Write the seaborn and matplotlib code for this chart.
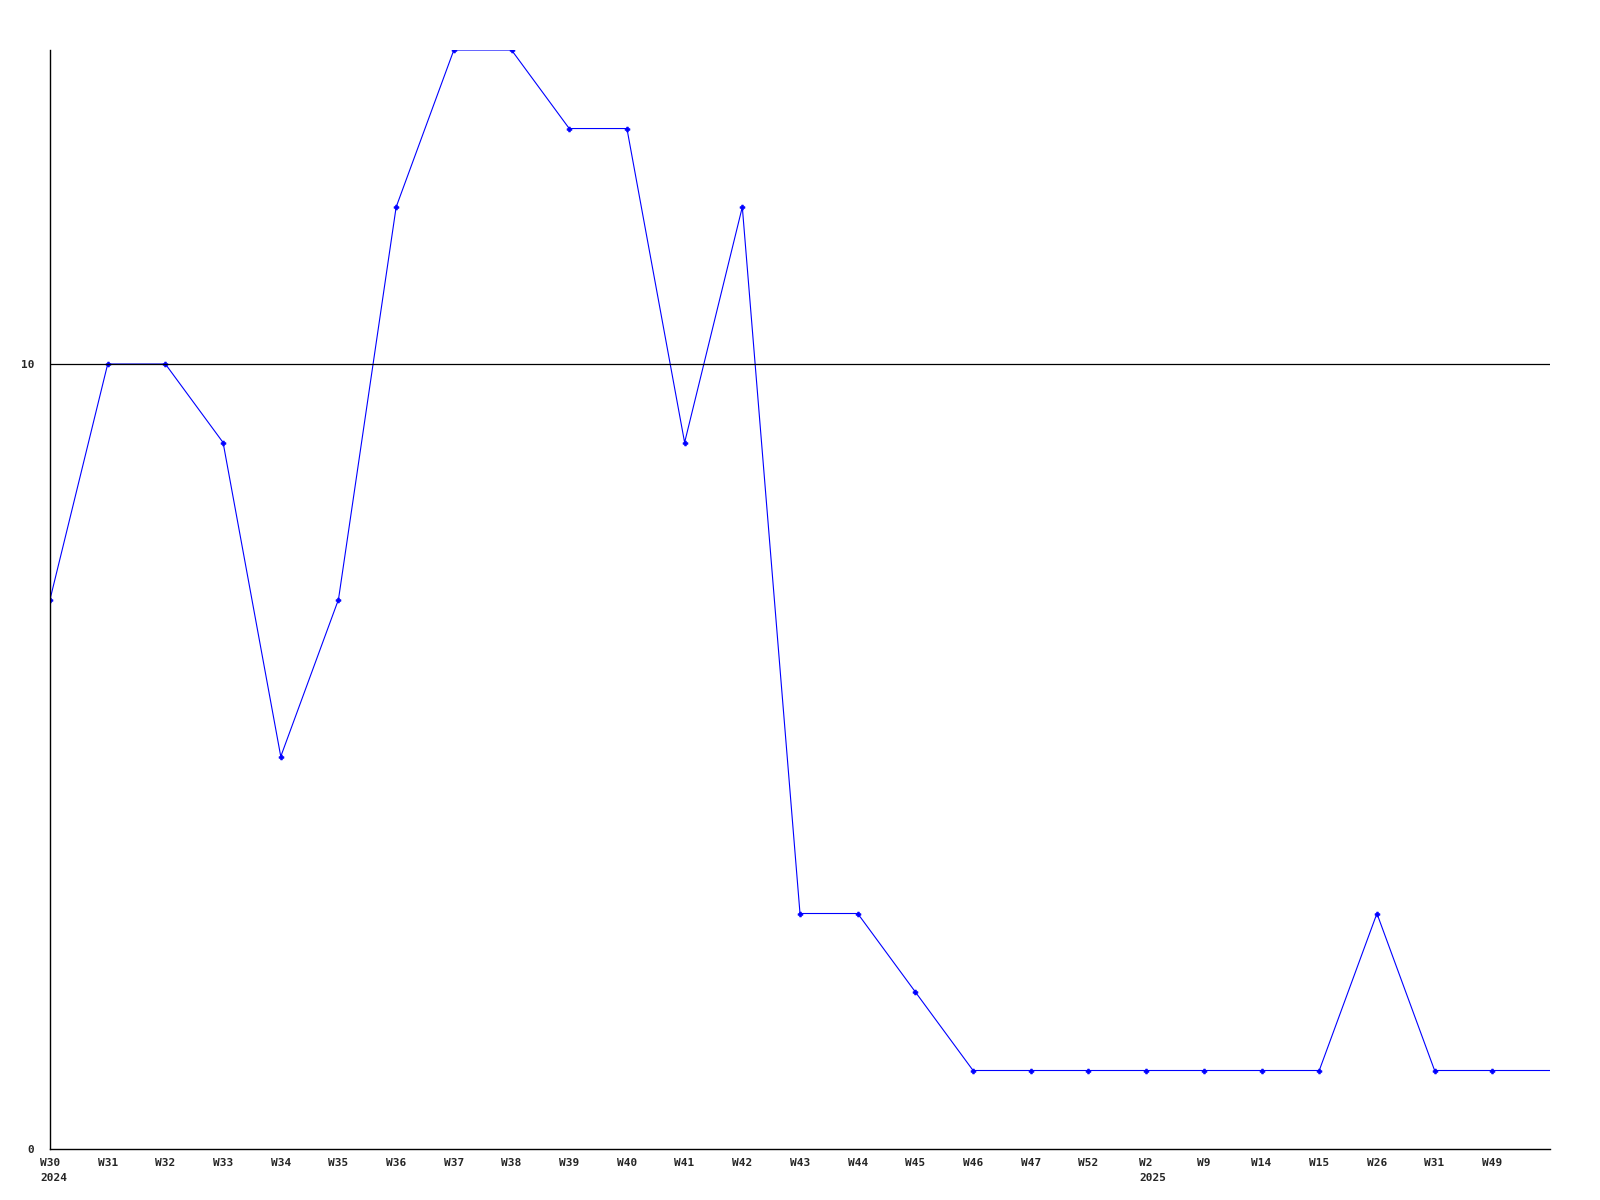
import matplotlib
matplotlib.use("Agg")
import matplotlib.pyplot as plt
import seaborn as sns
import pandas as pd
import numpy as np

weeks = ["W30", "W31", "W32", "W33", "W34", "W35", "W36", "W37", "W38", "W39",
         "W40", "W41", "W42", "W43", "W44", "W45", "W46", "W47", "W52", "W2",
         "W9", "W14", "W15", "W26", "W31", "W49", ""]
years = {0: "2024", 19: "2025"}
values = [7, 10, 10, 9, 5, 7, 12, 14, 14, 13,
          13, 9, 12, 3, 3, 2, 1, 1, 1, 1,
          1, 1, 1, 3, 1, 1, 1]

df = pd.DataFrame({"pos": np.arange(len(values)), "value": values})

sns.set_style("white")
plt.rcParams["font.family"] = ["DejaVu Sans Mono"]

fig = plt.figure(figsize=(16, 12), dpi=100)
ax = fig.add_axes([0.03125, 0.0425, 0.9375, 0.9158])

sns.lineplot(data=df, x="pos", y="value", ax=ax, color="#0000ff", linewidth=0.8,
             marker="P", markersize=3.5, markeredgewidth=0.5, markeredgecolor="#0000ff",
             markevery=list(range(len(values) - 1)), sort=False, zorder=2, clip_on=True)

ax.axhline(10, color="black", linewidth=0.9, zorder=3)

ax.set_xlim(0, len(values) - 1)
ax.set_ylim(0, 14)
ax.set_xticks(range(len(values)))
ax.set_xticklabels(weeks, fontsize=8, fontweight="bold")
ax.set_yticks([0, 10])
ax.set_yticklabels(["0", "10"], fontsize=8, fontweight="bold")
ax.tick_params(axis="both", length=0)
ax.tick_params(axis="x", pad=6.5)
ax.tick_params(axis="y", pad=11.5)
ax.set_xlabel("")
ax.set_ylabel("")

for s in ["top", "right"]:
    ax.spines[s].set_visible(False)
for s in ["left", "bottom"]:
    ax.spines[s].set_color("black")
    ax.spines[s].set_linewidth(1)
    ax.spines[s].set_zorder(4)

for i, yr in years.items():
    off = -len(weeks[i]) * 0.6 * 8 / 2
    ax.annotate(yr, xy=(i, 0), xycoords=("data", "axes fraction"),
                xytext=(off, -17), textcoords="offset points",
                ha="left", va="top", fontsize=8, fontweight="bold")

fig.savefig("out.png", dpi=100)
